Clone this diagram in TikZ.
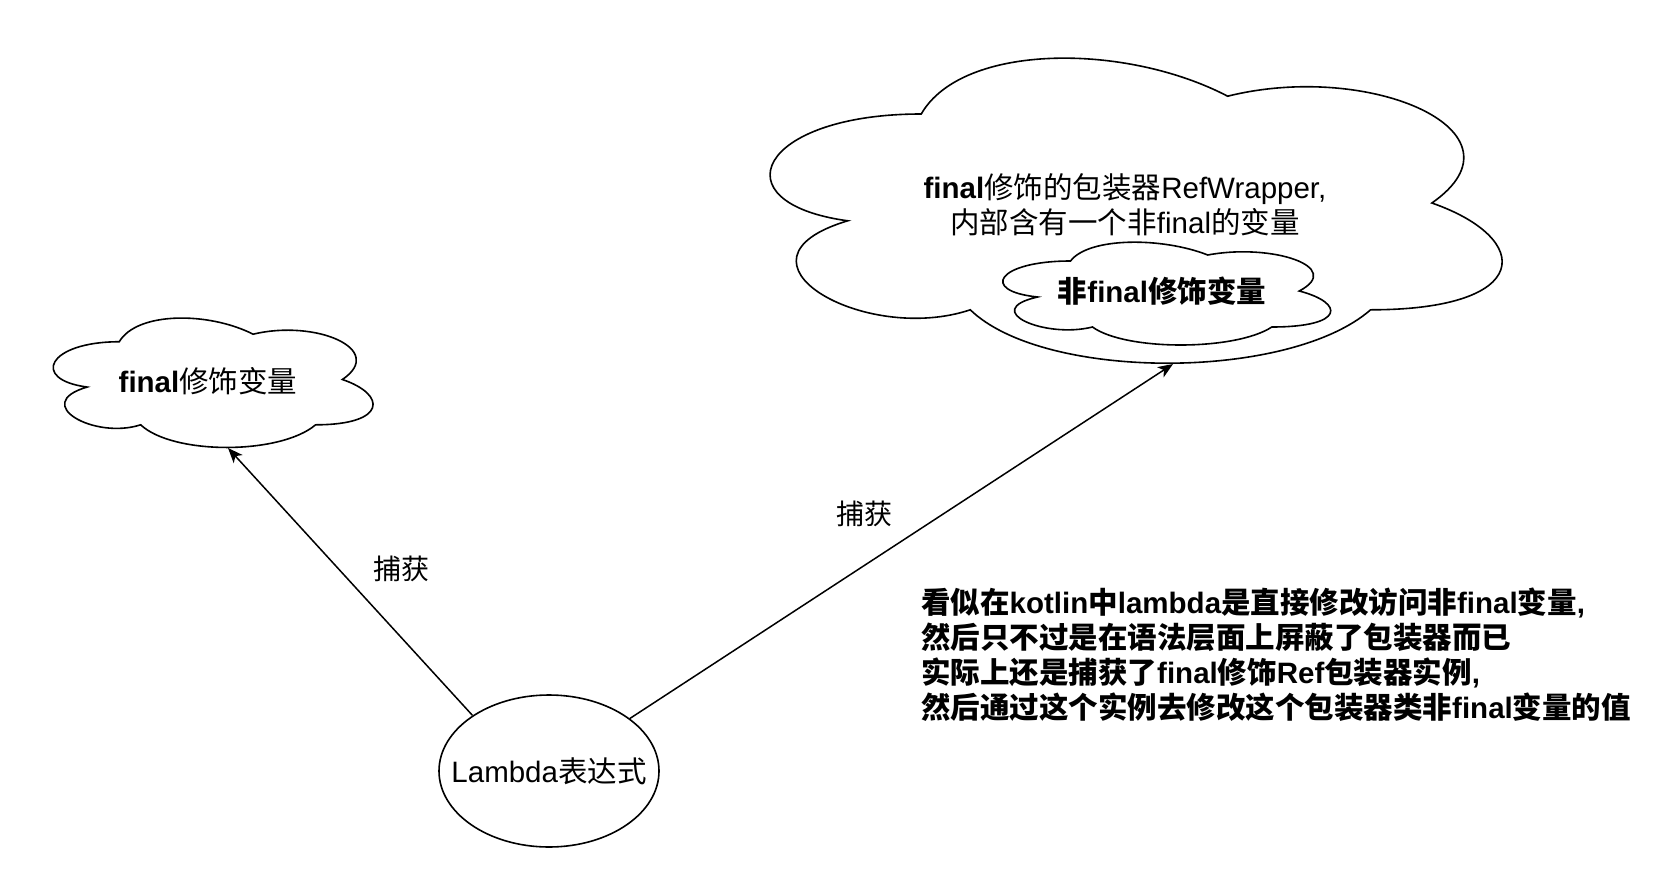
\documentclass[tikz,border=0pt]{standalone}
\usepackage{fontspec}
\setmainfont{Liberation Sans}
\newfontfamily\cjk{Noto Sans CJK SC}
\usetikzlibrary{arrows.meta,shapes.geometric}
\newcommand\C[1]{{\cjk #1}}
\begin{document}
\begin{tikzpicture}[x=1pt,y=-1pt,
  outline/.style={line width=1.6pt,black},
  conn/.style={line width=1.5pt,black,-{Stealth[length=15pt,width=12pt,inset=4pt]}},
  txt/.style={inner sep=0pt,font=\fontsize{29.5}{35}\selectfont,align=center},
  lblstyle/.style={inner sep=0pt,font=\fontsize{28}{34}\selectfont}
]
\useasboundingbox[fill=white] (0,0) rectangle (1656,880);

% cloud shape (draw.io) in unit coordinates
\newcommand\cloudshape[4]{%
\begin{scope}[shift={(#1,#2)},xscale=#3,yscale=#4]
\draw[outline,fill=white] (0.25,0.25)
  .. controls (0.05,0.25) and (0,0.5) .. (0.16,0.55)
  .. controls (0,0.66) and (0.18,0.9) .. (0.31,0.8)
  .. controls (0.4,1) and (0.7,1) .. (0.8,0.8)
  .. controls (1,0.8) and (1,0.6) .. (0.875,0.5)
  .. controls (1,0.3) and (0.8,0.1) .. (0.625,0.2)
  .. controls (0.5,0.05) and (0.3,0.05) .. (0.25,0.25) -- cycle;
\end{scope}}

% small cloud
\cloudshape{30}{304}{357}{151}
\node[txt] (scText) at (208,381) {\textbf{final}\C{修饰变量}};
\coordinate (scTip) at (228,448);

% big cloud
\cloudshape{717}{25}{817}{356}
\node[txt] (bcText) at (1125,205) {\textbf{final}\C{修饰的包装器}RefWrapper,\\\C{内部含有一个非}final\C{的变量}};
\coordinate (bcTip) at (1173,364);

% inner cloud
\cloudshape{979}{231}{366}{120}
\node[txt] (icText) at (1162,291) {\bfseries\C{非}final\C{修饰变量}};

% lambda ellipse
\node[draw,outline,ellipse,minimum width=220pt,minimum height=152pt,inner sep=0pt] (lam) at (549,771) {};
\node[txt] (lamText) at (lam.center) {Lambda\C{表达式}};

% connectors
\draw[conn] (lam.144.8) -- (scTip);
\draw[conn] (lam.33.7) -- (bcTip);

% labels
\node[lblstyle] (lbl1) at (401,569) {\C{捕获}};
\node[lblstyle] (lbl2) at (864,514) {\C{捕获}};

% note
\node[inner sep=0pt,anchor=west,align=left,font=\fontsize{29.5}{35}\selectfont\bfseries] (note) at (921,655)
{\C{看似在}kotlin\C{中}lambda\C{是直接修改访问非}final\C{变量},\\
\C{然后只不过是在语法层面上屏蔽了包装器而已}\\
\C{实际上还是捕获了}final\C{修饰}Ref\C{包装器实例},\\
\C{然后通过这个实例去修改这个包装器类非}final\C{变量的值}};
\end{tikzpicture}
\end{document}
